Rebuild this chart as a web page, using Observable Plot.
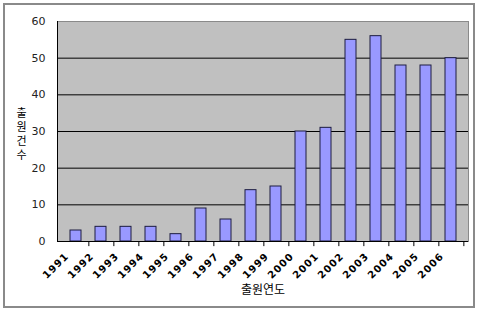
<!DOCTYPE html>
<html>
<head>
<meta charset="utf-8">
<script src="https://cdn.jsdelivr.net/npm/d3@7"></script>
<script src="https://cdn.jsdelivr.net/npm/@observablehq/plot@0.6"></script>
<style>
  html, body { margin: 0; padding: 0; background: #fff; }
  #wrap { position: relative; width: 480px; height: 312px; }
  #border { position: absolute; left: 3px; top: 3px; width: 468px; height: 301px; border: 2px solid #8a8a8a; pointer-events: none; }
</style>
</head>
<body>
<div id="wrap"><div id="chart"></div><div id="border"></div></div>
<script>
const years = ["1991","1992","1993","1994","1995","1996","1997","1998","1999","2000","2001","2002","2003","2004","2005","2006"];
const counts = [3,4,4,4,2,9,6,14,15,30,31,55,56,48,48,50];
const yTicks = [0,10,20,30,40,50,60];
const gridValues = [10,20,30,40,50];
const xLabel = "출원연도";
const yLabel = "출원건수";

const data = years.map((y, i) => ({year: y, count: counts[i]}));

const W = 480, H = 312, ML = 57, MR = 12, MT = 21, MB = 71;
const padIn = 0.57, padOut = 0.285;
const step = (W - ML - MR) / (years.length - padIn + 2 * padOut);

const chart = Plot.plot({
  width: W, height: H,
  marginLeft: ML, marginRight: MR, marginTop: MT, marginBottom: MB,
  style: {background: "transparent", fontFamily: "DejaVu Sans, sans-serif"},
  x: {domain: years, paddingInner: padIn, paddingOuter: padOut, label: null},
  y: {domain: [0, 60], label: null},
  marks: [
    Plot.frame({fill: "#c0c0c0", stroke: "#8a8a8a"}),
    Plot.ruleY(gridValues, {stroke: "#000", strokeWidth: 1}),
    Plot.barY(data, {x: "year", y: "count", fill: "#9999ff", stroke: "#1c1c40", strokeWidth: 1}),
    Plot.ruleY([0], {stroke: "#000"}),
    Plot.ruleX(years, {x: d => d, y1: 0, y2: -1.4, dx: step / 2, stroke: "#000"}),
    Plot.axisY({ticks: yTicks, tickSize: 0, tickPadding: 12, fontSize: 11, fill: "#222", label: null}),
    Plot.axisX({tickSize: 0, tickRotate: -45, tickPadding: 13, dx: -9, fontSize: 10, fontWeight: "bold", label: null}),
    Plot.text([xLabel], {text: d => d, frameAnchor: "bottom", dy: 52, fontSize: 12, fontFamily: "Noto Sans CJK KR"}),
    Plot.text([yLabel], {text: d => d, frameAnchor: "left", dx: -36, fontSize: 11, fontFamily: "Noto Sans CJK KR", textAnchor: "middle", className: "ylab"})
  ]
});
const svg = d3.select(chart);
svg.append("line").attr("x1", ML + 0.5).attr("x2", ML + 0.5).attr("y1", MT).attr("y2", H - MB).attr("stroke", "#000");
svg.selectAll("[aria-label='x-axis tick label'] text").style("letter-spacing", "1px");
svg.selectAll(".ylab text")
  .style("writing-mode", "vertical-rl")
  .style("text-orientation", "upright")
  .style("letter-spacing", "3px")
  .attr("dy", null);
document.getElementById("chart").appendChild(chart);
</script>
</body>
</html>
